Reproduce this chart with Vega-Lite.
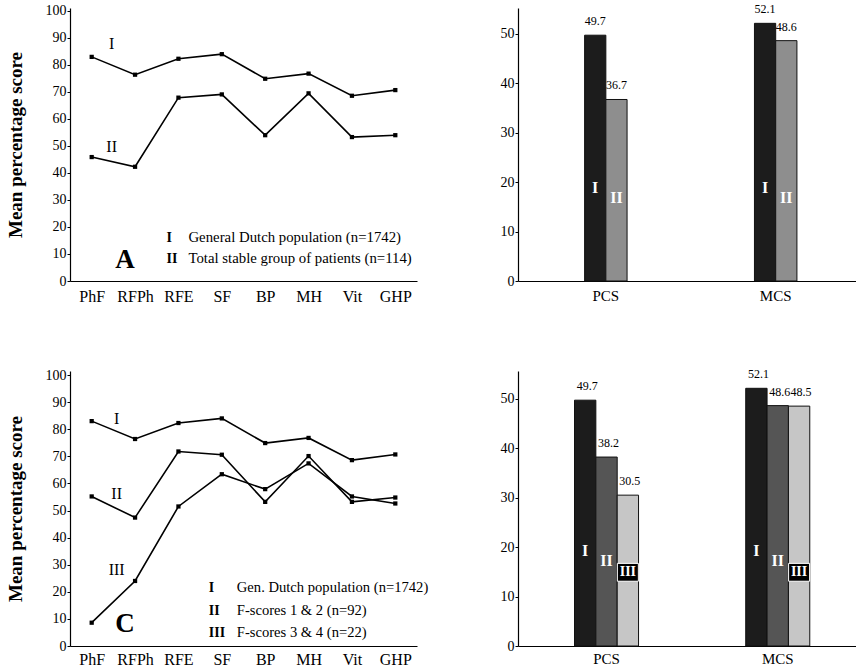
{
  "$schema": "https://vega.github.io/schema/vega-lite/v6.json",
  "padding": {"left": 6, "top": 3, "right": 0, "bottom": 0},
  "background": "white",
  "config": {
    "font": "Liberation Serif",
    "view": {"stroke": null},
    "axis": {
      "grid": false,
      "domainColor": "#000",
      "domainWidth": 1.2,
      "tickColor": "#000",
      "labelColor": "#000",
      "titleColor": "#000",
      "labelFont": "Liberation Serif",
      "titleFont": "Liberation Serif"
    },
    "text": {"font": "Liberation Serif", "color": "#000"}
  },
  "datasets": {
    "scales_ab": [
      {"scale": "PhF", "group": "I", "score": 83.0},
      {"scale": "RFPh", "group": "I", "score": 76.4},
      {"scale": "RFE", "group": "I", "score": 82.3},
      {"scale": "SF", "group": "I", "score": 84.0},
      {"scale": "BP", "group": "I", "score": 74.9},
      {"scale": "MH", "group": "I", "score": 76.8},
      {"scale": "Vit", "group": "I", "score": 68.6},
      {"scale": "GHP", "group": "I", "score": 70.7},
      {"scale": "PhF", "group": "II", "score": 45.9},
      {"scale": "RFPh", "group": "II", "score": 42.3},
      {"scale": "RFE", "group": "II", "score": 67.9},
      {"scale": "SF", "group": "II", "score": 69.1},
      {"scale": "BP", "group": "II", "score": 54.0},
      {"scale": "MH", "group": "II", "score": 69.5},
      {"scale": "Vit", "group": "II", "score": 53.3},
      {"scale": "GHP", "group": "II", "score": 54.0}
    ],
    "scales_cd": [
      {"scale": "PhF", "group": "I", "score": 83.0},
      {"scale": "RFPh", "group": "I", "score": 76.4},
      {"scale": "RFE", "group": "I", "score": 82.3},
      {"scale": "SF", "group": "I", "score": 84.0},
      {"scale": "BP", "group": "I", "score": 74.9},
      {"scale": "MH", "group": "I", "score": 76.8},
      {"scale": "Vit", "group": "I", "score": 68.6},
      {"scale": "GHP", "group": "I", "score": 70.7},
      {"scale": "PhF", "group": "II", "score": 55.2},
      {"scale": "RFPh", "group": "II", "score": 47.4},
      {"scale": "RFE", "group": "II", "score": 71.8},
      {"scale": "SF", "group": "II", "score": 70.6},
      {"scale": "BP", "group": "II", "score": 53.2},
      {"scale": "MH", "group": "II", "score": 70.1},
      {"scale": "Vit", "group": "II", "score": 53.2},
      {"scale": "GHP", "group": "II", "score": 54.8},
      {"scale": "PhF", "group": "III", "score": 8.6},
      {"scale": "RFPh", "group": "III", "score": 24.0},
      {"scale": "RFE", "group": "III", "score": 51.5},
      {"scale": "SF", "group": "III", "score": 63.4},
      {"scale": "BP", "group": "III", "score": 57.9},
      {"scale": "MH", "group": "III", "score": 67.4},
      {"scale": "Vit", "group": "III", "score": 55.2},
      {"scale": "GHP", "group": "III", "score": 52.6}
    ],
    "summary_b": [
      {"component": "PCS", "group": "I", "value": 49.7},
      {"component": "PCS", "group": "II", "value": 36.7},
      {"component": "MCS", "group": "I", "value": 52.1},
      {"component": "MCS", "group": "II", "value": 48.6}
    ],
    "summary_d": [
      {"component": "PCS", "group": "I", "value": 49.7},
      {"component": "PCS", "group": "II", "value": 38.2},
      {"component": "PCS", "group": "III", "value": 30.5},
      {"component": "MCS", "group": "I", "value": 52.1},
      {"component": "MCS", "group": "II", "value": 48.6},
      {"component": "MCS", "group": "III", "value": 48.5}
    ]
  },
  "bounds": "flush",
  "columns": 2,
  "spacing": {"row": 90, "column": 101},
  "resolve": {"scale": {"color": "independent", "xOffset": "independent"}},
  "concat": [
    {
      "width": 347,
      "height": 273,
      "encoding": {
        "x": {
          "field": "scale",
          "type": "nominal",
          "sort": ["PhF", "RFPh", "RFE", "SF", "BP", "MH", "Vit", "GHP"],
          "scale": {"type": "point", "padding": 0.5},
          "axis": {"title": null, "ticks": false, "labelAngle": 0, "labelFontSize": 16, "labelPadding": 7}
        },
        "y": {
          "field": "score",
          "type": "quantitative",
          "scale": {"domain": [0, 101.1], "nice": false},
          "axis": {
            "title": "Mean percentage score",
            "titleFontSize": 19,
            "titleFontWeight": "bold",
            "titlePadding": 20,
            "values": [0, 10, 20, 30, 40, 50, 60, 70, 80, 90, 100],
            "labelFontSize": 14,
            "tickSize": 3,
            "labelPadding": 1
          }
        }
      },
      "layer": [
        {
          "data": {"name": "scales_ab"},
          "mark": {"type": "line", "color": "#000", "strokeWidth": 1.6, "point": {"filled": true, "shape": "square", "size": 18, "color": "#000"}},
          "encoding": {"detail": {"field": "group", "type": "nominal"}}
        },
        {
          "data": {"values": [
            {"scale": "PhF", "score": 87.8, "label": "I"},
            {"scale": "PhF", "score": 49.6, "label": "II"}
          ]},
          "mark": {"type": "text", "dx": 20, "fontSize": 16, "baseline": "middle"},
          "encoding": {"text": {"field": "label"}}
        },
        {
          "data": {"values": [
            {"scale": "RFE", "score": 15.9, "label": "I"},
            {"scale": "RFE", "score": 8.1, "label": "II"}
          ]},
          "mark": {"type": "text", "dx": -12, "align": "left", "fontSize": 14, "fontWeight": "bold", "baseline": "middle"},
          "encoding": {"text": {"field": "label"}}
        },
        {
          "data": {"values": [
            {"scale": "RFE", "score": 15.9, "label": "General Dutch population (n=1742)"},
            {"scale": "RFE", "score": 8.1, "label": "Total stable group of patients (n=114)"}
          ]},
          "mark": {"type": "text", "dx": 10, "align": "left", "fontSize": 14.8, "baseline": "middle"},
          "encoding": {"text": {"field": "label"}}
        },
        {
          "data": {"values": [{"scale": "RFPh", "score": 7.8, "label": "A"}]},
          "mark": {"type": "text", "dx": -10, "fontSize": 27, "fontWeight": "bold", "baseline": "middle"},
          "encoding": {"text": {"field": "label"}}
        }
      ]
    },
    {
      "width": 338,
      "height": 273,
      "data": {"name": "summary_b"},
      "encoding": {
        "x": {
          "field": "component",
          "type": "nominal",
          "sort": ["PCS", "MCS"],
          "scale": {"paddingInner": 0.75, "paddingOuter": 0.37, "align": 0.53},
          "axis": {"title": null, "ticks": false, "labelAngle": 0, "labelFontSize": 15, "labelPadding": 7}
        },
        "xOffset": {"field": "group", "type": "nominal", "sort": ["I", "II"], "scale": {"paddingInner": 0, "paddingOuter": 0}},
        "y": {
          "field": "value",
          "type": "quantitative",
          "scale": {"domain": [0, 55.2], "nice": false},
          "axis": {"title": null, "values": [0, 10, 20, 30, 40, 50], "labelFontSize": 14, "tickSize": 3, "labelPadding": 1}
        }
      },
      "layer": [
        {
          "mark": {"type": "bar", "stroke": "#111", "strokeWidth": 1},
          "encoding": {
            "color": {"field": "group", "type": "nominal", "scale": {"domain": ["I", "II"], "range": ["#1c1c1c", "#8e8e8e"]}, "legend": null}
          }
        },
        {
          "mark": {"type": "text", "dy": -7, "fontSize": 12, "baseline": "bottom"},
          "encoding": {"text": {"field": "value", "format": ".1f"}}
        },
        {
          "transform": [{"filter": "datum.group === 'I'"}],
          "mark": {"type": "text", "fontSize": 16, "fontWeight": "bold", "color": "#fff", "baseline": "middle"},
          "encoding": {"y": {"datum": 18.8}, "text": {"field": "group"}}
        },
        {
          "transform": [{"filter": "datum.group === 'II'"}],
          "mark": {"type": "text", "fontSize": 16, "fontWeight": "bold", "color": "#fff", "baseline": "middle"},
          "encoding": {"y": {"datum": 16.8}, "text": {"field": "group"}}
        },
        {
          "data": {"values": [{"label": "B"}]},
          "mark": {"type": "text", "dx": 6, "fontSize": 27, "fontWeight": "bold", "baseline": "middle"},
          "encoding": {"x": null, "xOffset": null, "y": {"datum": 4.4}, "text": {"field": "label"}}
        }
      ]
    },
    {
      "width": 347,
      "height": 275,
      "encoding": {
        "x": {
          "field": "scale",
          "type": "nominal",
          "sort": ["PhF", "RFPh", "RFE", "SF", "BP", "MH", "Vit", "GHP"],
          "scale": {"type": "point", "padding": 0.5},
          "axis": {"title": null, "ticks": false, "labelAngle": 0, "labelFontSize": 16, "labelPadding": 5}
        },
        "y": {
          "field": "score",
          "type": "quantitative",
          "scale": {"domain": [0, 101.5], "nice": false},
          "axis": {
            "title": "Mean percentage score",
            "titleFontSize": 19,
            "titleFontWeight": "bold",
            "titlePadding": 20,
            "values": [0, 10, 20, 30, 40, 50, 60, 70, 80, 90, 100],
            "labelFontSize": 14,
            "tickSize": 3,
            "labelPadding": 1
          }
        }
      },
      "layer": [
        {
          "data": {"name": "scales_cd"},
          "mark": {"type": "line", "color": "#000", "strokeWidth": 1.6, "point": {"filled": true, "shape": "square", "size": 18, "color": "#000"}},
          "encoding": {"detail": {"field": "group", "type": "nominal"}}
        },
        {
          "data": {"values": [
            {"scale": "PhF", "score": 83.8, "label": "I"},
            {"scale": "PhF", "score": 56.1, "label": "II"},
            {"scale": "PhF", "score": 28.1, "label": "III"}
          ]},
          "mark": {"type": "text", "dx": 25, "fontSize": 16, "baseline": "middle"},
          "encoding": {"text": {"field": "label"}}
        },
        {
          "data": {"values": [
            {"scale": "SF", "score": 21.4, "label": "I"},
            {"scale": "SF", "score": 12.9, "label": "II"},
            {"scale": "SF", "score": 4.8, "label": "III"}
          ]},
          "mark": {"type": "text", "dx": -13, "align": "left", "fontSize": 14, "fontWeight": "bold", "baseline": "middle"},
          "encoding": {"text": {"field": "label"}}
        },
        {
          "data": {"values": [
            {"scale": "SF", "score": 21.4, "label": "Gen. Dutch population (n=1742)"},
            {"scale": "SF", "score": 12.9, "label": "F-scores 1 & 2 (n=92)"},
            {"scale": "SF", "score": 4.8, "label": "F-scores 3 & 4 (n=22)"}
          ]},
          "mark": {"type": "text", "dx": 15, "align": "left", "fontSize": 14.6, "baseline": "middle"},
          "encoding": {"text": {"field": "label"}}
        },
        {
          "data": {"values": [{"scale": "RFPh", "score": 8.1, "label": "C"}]},
          "mark": {"type": "text", "dx": -10, "fontSize": 27, "fontWeight": "bold", "baseline": "middle"},
          "encoding": {"text": {"field": "label"}}
        }
      ]
    },
    {
      "width": 338,
      "height": 275,
      "data": {"name": "summary_d"},
      "encoding": {
        "x": {
          "field": "component",
          "type": "nominal",
          "sort": ["PCS", "MCS"],
          "scale": {"paddingInner": 0.626, "paddingOuter": 0.3, "align": 0.55},
          "axis": {"title": null, "ticks": false, "labelAngle": 0, "labelFontSize": 15, "labelPadding": 5}
        },
        "xOffset": {"field": "group", "type": "nominal", "sort": ["I", "II", "III"], "scale": {"paddingInner": 0, "paddingOuter": 0}},
        "y": {
          "field": "value",
          "type": "quantitative",
          "scale": {"domain": [0, 55.6], "nice": false},
          "axis": {"title": null, "values": [0, 10, 20, 30, 40, 50], "labelFontSize": 14, "tickSize": 3, "labelPadding": 1}
        }
      },
      "layer": [
        {
          "mark": {"type": "bar", "stroke": "#111", "strokeWidth": 1},
          "encoding": {
            "color": {"field": "group", "type": "nominal", "scale": {"domain": ["I", "II", "III"], "range": ["#1c1c1c", "#555555", "#c6c6c6"]}, "legend": null}
          }
        },
        {
          "mark": {"type": "text", "dy": -7, "dx": 2, "fontSize": 12, "baseline": "bottom"},
          "encoding": {"text": {"field": "value", "format": ".1f"}}
        },
        {
          "transform": [{"filter": "datum.group === 'I'"}],
          "mark": {"type": "text", "fontSize": 16, "fontWeight": "bold", "color": "#fff", "baseline": "middle"},
          "encoding": {"y": {"datum": 19.2}, "text": {"field": "group"}}
        },
        {
          "transform": [{"filter": "datum.group === 'II'"}],
          "mark": {"type": "text", "fontSize": 16, "fontWeight": "bold", "color": "#fff", "baseline": "middle"},
          "encoding": {"y": {"datum": 17.1}, "text": {"field": "group"}}
        },
        {
          "transform": [{"filter": "datum.group === 'III'"}],
          "mark": {"type": "point", "shape": "M-1,-0.85H1V0.85H-1Z", "size": 441, "filled": true, "fill": "#000", "stroke": "#fff", "strokeWidth": 1, "opacity": 1},
          "encoding": {"y": {"datum": 14.9}}
        },
        {
          "transform": [{"filter": "datum.group === 'III'"}],
          "mark": {"type": "text", "fontSize": 14, "fontWeight": "bold", "color": "#fff", "baseline": "middle"},
          "encoding": {"y": {"datum": 14.9}, "text": {"field": "group"}}
        },
        {
          "data": {"values": [{"label": "D"}]},
          "mark": {"type": "text", "dx": 7, "fontSize": 27, "fontWeight": "bold", "baseline": "middle"},
          "encoding": {"x": null, "xOffset": null, "y": {"datum": 4.0}, "text": {"field": "label"}}
        }
      ]
    }
  ]
}
